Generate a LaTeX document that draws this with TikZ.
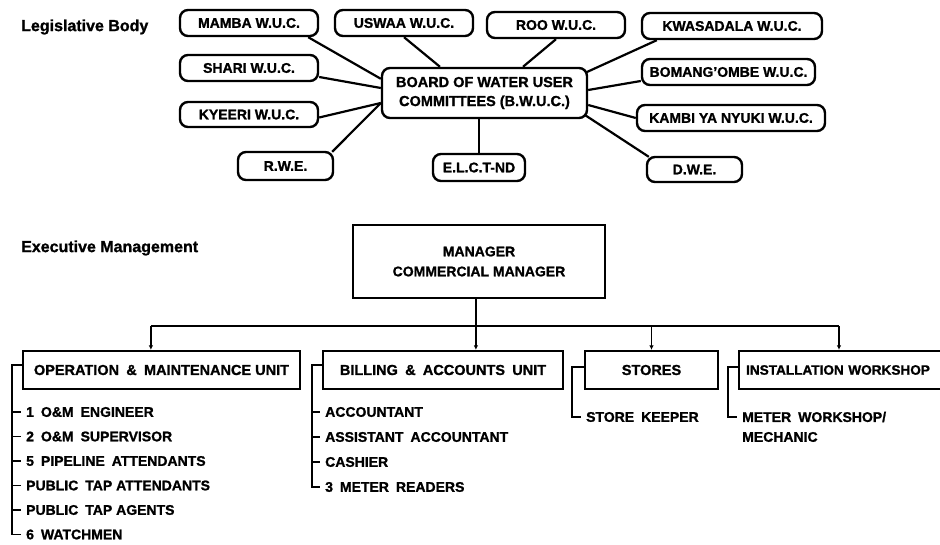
\documentclass[tikz,border=0pt]{standalone}
\usepackage{fontspec}
\setmainfont[BoldFeatures={FakeBold=1.2}]{Liberation Sans}
\usetikzlibrary{calc,arrows.meta}
\begin{document}
\begin{tikzpicture}[x=1pt,y=-1pt,
  wuc/.style={draw, line width=2.4pt, rounded corners=8pt, inner sep=0pt,
    font=\fontsize{14}{15}\selectfont\bfseries, minimum height=26pt},
  conn/.style={line width=2.2pt},
  unitbox/.style={draw, line width=2.2pt, inner sep=0pt,
    font=\fontsize{14.5}{20}\selectfont\bfseries, minimum height=38pt},
  lab/.style={font=\fontsize{16}{18}\selectfont\bfseries, inner sep=0pt, anchor=west},
  item/.style={font=\fontsize{14}{15}\selectfont\bfseries, inner xsep=5pt, inner ysep=1.5pt, anchor=west},
  busline/.style={line width=1.8pt},
  brk/.style={line width=1.8pt},
  tip/.style={-{Latex[length=4.5pt,width=4.5pt]}}
]
\useasboundingbox (0,0) rectangle (940,545);
\clip (0,0) rectangle (940,545);

% ---------- Legislative body ----------
\node[lab] (leg) at (21,27) {Legislative Body};

\node[wuc, minimum width=138pt] (mamba) at (249,23) {MAMBA W.U.C.};
\node[wuc, minimum width=138pt] (uswaa) at (404,23) {USWAA W.U.C.};
\node[wuc, minimum width=138pt] (roo) at (556,25) {ROO W.U.C.};
\node[wuc, minimum width=180pt] (kwas) at (732,26) {KWASADALA W.U.C.};
\node[wuc, minimum width=173pt] (boma) at (728.5,72) {BOMANG'OMBE W.U.C.};
\node[wuc, minimum width=188pt] (kambi) at (731,118) {KAMBI YA NYUKI W.U.C.};
\node[wuc, minimum width=95pt, minimum height=25pt] (dwe) at (694.5,169.5) {D.W.E.};
\node[wuc, minimum width=92pt, minimum height=27pt] (elct) at (479,167.5) {E.L.C.T-ND};
\node[wuc, minimum width=95pt, minimum height=28pt] (rwe) at (285.5,166) {R.W.E.};
\node[wuc, minimum width=138pt, minimum height=25pt] (kyeeri) at (249,114.5) {KYEERI W.U.C.};
\node[wuc, minimum width=138pt] (shari) at (249,68) {SHARI W.U.C.};
\node[wuc, minimum width=205pt, minimum height=50pt, align=center,
  font=\fontsize{14.5}{19}\selectfont\bfseries] (board) at (484.5,93)
  {BOARD OF WATER USER\\COMMITTEES (B.W.U.C.)};

\draw[conn] ($(mamba.south east)+(-11,0)$) -- ($(board.north west)+(0,12)$);
\draw[conn] (uswaa.south) -- ($(board.north)+(-44.5,0)$);
\draw[conn] (roo.south) -- ($(board.north)+(38.5,0)$);
\draw[conn] ($(kwas.south west)+(16,0)$) -- ($(board.north east)+(-3,6)$);
\draw[conn] ($(boma.west)+(0,9)$) -- ($(board.east)+(0,-3)$);
\draw[conn] (kambi.west) -- ($(board.east)+(0,12)$);
\draw[conn] ($(dwe.north west)+(3,1)$) -- ($(board.south east)+(-3,-4)$);
\draw[conn] (elct.north) -- (elct.north |- board.south);
\draw[conn] ($(rwe.north east)+(-2,1)$) -- ($(board.west)+(0,10)$);
\draw[conn] ($(kyeeri.east)+(0,3)$) -- ($(board.west)+(0,10)$);
\draw[conn] ($(shari.east)+(0,9)$) -- ($(board.west)+(0,-5)$);

% ---------- Executive management ----------
\node[lab] (exe) at (21,248) {Executive Management};

\node[unitbox, minimum width=252pt, minimum height=73pt, align=center,
  font=\fontsize{14}{20}\selectfont\bfseries] (mgr) at (479,261.5)
  {MANAGER\\COMMERCIAL MANAGER};

\node[unitbox, minimum width=277pt] (op) at (161.5,370) {OPERATION\enspace\&\enspace MAINTENANCE UNIT};
\node[unitbox, minimum width=240pt] (bill) at (443,370) {BILLING\enspace\&\enspace ACCOUNTS\enspace UNIT};
\node[unitbox, minimum width=133pt] (stores) at (651.5,370) {STORES};
\node[unitbox, anchor=west, inner xsep=7pt, text width=216pt, align=left,
  font=\fontsize{13.6}{20}\selectfont\bfseries] (inst) at (738,370) {INSTALLATION WORKSHOP};

\coordinate (d1) at ($(op.north west)+(129,0)$);
\coordinate (d2) at ($(bill.north west)+(154,0)$);
\coordinate (d3) at (stores.north);
\coordinate (d4) at ($(inst.north west)+(101,0)$);
\coordinate (bus) at ($(mgr.south)+(0,27)$);

\draw[busline] (d2 |- mgr.south) -- (d2 |- bus);
\draw[busline] (d1 |- bus) -- (d4 |- bus);
\draw[busline, tip] (d1 |- bus) -- (d1);
\draw[busline, tip] (d2 |- bus) -- (d2);
\draw[busline, tip] (d3 |- bus) -- (d3);
\draw[busline, tip] (d4 |- bus) -- (d4);

% O&M staff
\node[item] (o1) at (21,412) {1\enspace O\&M\enspace ENGINEER};
\node[item] (o2) at (21,436.5) {2\enspace O\&M\enspace SUPERVISOR};
\node[item] (o3) at (21,461) {5\enspace PIPELINE\enspace ATTENDANTS};
\node[item] (o4) at (21,485.5) {PUBLIC\enspace TAP ATTENDANTS};
\node[item] (o5) at (21,510) {PUBLIC\enspace TAP AGENTS};
\node[item] (o6) at (21,534.5) {6\enspace WATCHMEN};
\coordinate (ob) at ($(op.north west)+(0,15)$);
\coordinate (obx) at ($(op.west)+(-10,0)$);
\draw[brk] (ob) -- (ob -| obx) -- (obx |- o6.west) -- (o6.west);
\foreach \i in {o1,o2,o3,o4,o5} \draw[brk] (obx |- \i.west) -- (\i.west);

% Billing staff
\node[item] (b1) at (320,412) {ACCOUNTANT};
\node[item] (b2) at (320,437) {ASSISTANT\enspace ACCOUNTANT};
\node[item] (b3) at (320,462) {CASHIER};
\node[item] (b4) at (320,487) {3\enspace METER\enspace READERS};
\coordinate (bb) at ($(bill.north west)+(0,15)$);
\coordinate (bbx) at ($(bill.west)+(-10,0)$);
\draw[brk] (bb) -- (bb -| bbx) -- (bbx |- b4.west) -- (b4.west);
\foreach \i in {b1,b2,b3} \draw[brk] (bbx |- \i.west) -- (\i.west);

% Stores staff
\node[item] (s1) at (581,417) {STORE\enspace KEEPER};
\coordinate (sb) at ($(stores.north west)+(0,17)$);
\coordinate (sbx) at ($(stores.west)+(-12,0)$);
\draw[brk] (sb) -- (sb -| sbx) -- (sbx |- s1.west) -- (s1.west);

% Installation staff
\node[item] (w1) at (737,417) {METER\enspace WORKSHOP/};
\node[item] (w2) at (737,437) {MECHANIC};
\coordinate (ib) at ($(inst.north west)+(0,17)$);
\coordinate (ibx) at ($(inst.west)+(-10,0)$);
\draw[brk] (ib) -- (ib -| ibx) -- (ibx |- w1.west) -- (w1.west);
\end{tikzpicture}
\end{document}
